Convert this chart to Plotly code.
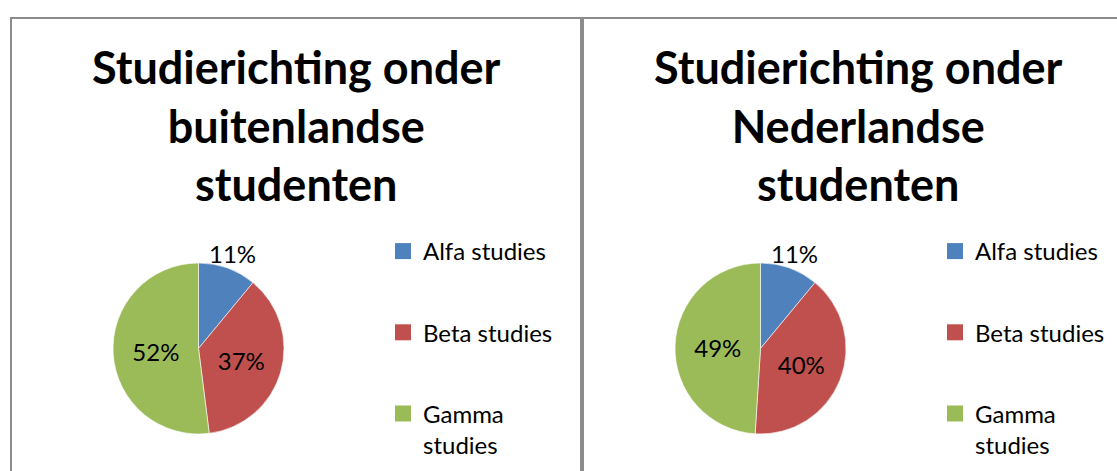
import math
import plotly.graph_objects as go

categories = ["Alfa studies", "Beta studies", "Gamma studies"]
legend_labels = ["Alfa studies", "Beta studies", "Gamma<br>studies"]
buitenlands_values = [11, 37, 52]
nederlands_values = [11, 40, 49]
titles = ["Studierichting onder<br>buitenlandse<br>studenten",
          "Studierichting onder<br>Nederlandse<br>studenten"]
colors = ["#4F81BD", "#C0504D", "#9BBB59"]

W, H = 1117, 471
FONT = "Lato, Carlito, Calibri, sans-serif"

def px(x):
    return x / W

def py(y):
    return 1 - y / H

fig = go.Figure()
annotations = []

pie_specs = [
    (buitenlands_values, (113, 284), (263, 434)),
    (nederlands_values, (675, 846), (263, 434)),
]
for vals, (x0, x1), (y0, y1) in pie_specs:
    fig.add_trace(go.Pie(
        labels=categories, values=vals, sort=False, direction="clockwise",
        rotation=0,
        marker=dict(colors=colors, line=dict(color="white", width=0.6)),
        textinfo="percent", texttemplate="%{value}%",
        textposition=["none", "inside", "inside"],
        textfont=dict(family=FONT, size=24, color="black"),
        insidetextorientation="horizontal",
        showlegend=False,
        domain=dict(x=[px(x0), px(x1)], y=[py(y1), py(y0)]),
    ))
    # outside label for the first (small) slice, placed along its mid-angle
    total = sum(vals)
    theta = 2 * math.pi * (vals[0] / 2) / total
    cx, cy = (x0 + x1) / 2, (y0 + y1) / 2
    d = (x1 - x0) / 2 + 15
    annotations.append(dict(
        text=f"{vals[0]}%", x=px(cx + d * math.sin(theta)),
        y=py(cy - d * math.cos(theta)), xref="paper", yref="paper",
        xanchor="center", yanchor="middle", showarrow=False,
        font=dict(family=FONT, size=24, color="black"),
    ))

for leg in ["legend", "legend2"]:
    for cat, lab, col in zip(categories, legend_labels, colors):
        fig.add_trace(go.Scatter(
            x=[None], y=[None], mode="markers", name=lab,
            marker=dict(symbol="square", size=16, color=col),
            legendgroup=leg + cat, legend=leg, hoverinfo="skip",
        ))

legend_common = dict(
    font=dict(family=FONT, size=24, color="black"),
    tracegroupgap=47, bgcolor="rgba(0,0,0,0)", yanchor="top",
    xanchor="left", itemsizing="trace", valign="top",
)

for t, xc in zip(titles, [296, 858]):
    annotations.append(dict(
        text="<b>" + t + "</b>", x=px(xc), y=py(126), xref="paper", yref="paper",
        xanchor="center", yanchor="middle", showarrow=False,
        font=dict(family=FONT, size=45, color="black"),
    ))

line_style = dict(color="#8c8c8c", width=2)
shapes = [
    dict(type="rect", xref="paper", yref="paper", x0=px(11), x1=px(581),
         y0=-0.2, y1=py(18), line=line_style),
    dict(type="rect", xref="paper", yref="paper", x0=px(583), x1=px(1130),
         y0=-0.2, y1=py(18), line=line_style),
]

fig.update_layout(
    width=W, height=H, margin=dict(l=0, r=0, t=0, b=0),
    paper_bgcolor="white", plot_bgcolor="white",
    xaxis=dict(visible=False, domain=[0, 0.01]),
    yaxis=dict(visible=False, domain=[0, 0.01]),
    legend=dict(x=px(383), y=py(229), **legend_common),
    legend2=dict(x=px(935), y=py(229), **legend_common),
    annotations=annotations, shapes=shapes,
)

fig.write_html("out.html", config={"displayModeBar": False},
               post_script="document.body.style.margin='0px';document.body.style.overflow='hidden';")
